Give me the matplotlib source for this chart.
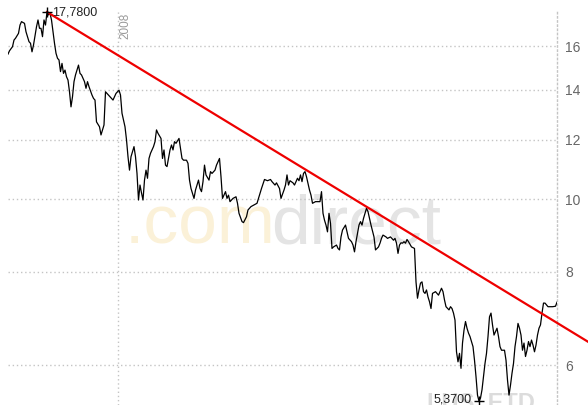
import matplotlib
matplotlib.use("Agg")
import matplotlib.pyplot as plt
import numpy as np
import pandas as pd
from matplotlib.ticker import NullLocator

# data (calendar-day offsets from the first point, closing values)
start = pd.Timestamp("2007-10-20")
day_offsets = [
    0, 1, 3, 4, 5, 7, 8, 9, 11, 12, 14, 15, 16, 17, 19, 20, 21, 22, 23, 24,
    25, 26, 27, 28, 29, 30, 31, 32, 33, 34, 35, 36, 37, 38, 39, 40, 41, 42, 43, 44,
    45, 47, 48, 49, 51, 52, 53, 54, 56, 57, 58, 59, 61, 62, 64, 65, 67, 68, 70, 71,
    72, 74, 75, 76, 78, 79, 80, 81, 82, 84, 85, 86, 87, 88, 89, 90, 91, 92, 93, 94,
    95, 96, 97, 98, 99, 100, 102, 103, 104, 105, 106, 108, 109, 110, 111, 112, 114, 115, 116, 117,
    119, 120, 121, 122, 124, 125, 127, 128, 129, 130, 131, 132, 134, 135, 136, 138, 139, 141, 142, 143,
    145, 146, 147, 148, 150, 152, 153, 154, 156, 157, 159, 160, 162, 164, 166, 167, 169, 171, 173, 175,
    176, 178, 179, 181, 182, 184, 185, 186, 187, 188, 190, 191, 193, 194, 195, 196, 197, 198, 199, 200,
    201, 202, 203, 205, 206, 208, 209, 210, 211, 212, 213, 214, 215, 216, 217, 219, 220, 221, 222, 223,
    225, 226, 227, 229, 230, 231, 232, 233, 234, 235, 236, 237, 239, 240, 241, 242, 244, 245, 247, 248,
    249, 250, 252, 253, 255, 257, 258, 259, 260, 261, 262, 263, 264, 265, 266, 267, 269, 271, 272, 273,
    274, 275, 276, 277, 278, 279, 280, 281, 282, 283, 285, 286, 287, 289, 290, 291, 292, 294, 295, 296,
    297, 298, 299, 300, 301, 302, 303, 304, 305, 306, 307, 308, 309, 310, 311, 312, 313, 314, 315, 316,
    317, 318, 319, 320, 321, 322, 323, 324, 325, 326, 327, 328, 329, 331, 332, 333, 334, 335, 336, 337,
    338, 339, 340, 341, 342, 343, 344, 345, 346, 347, 348, 349, 350, 351, 352, 353, 354, 355, 356, 357,
    358, 359, 360, 363, 365, 366,
]
prices = [
    15.62, 15.78, 15.98, 16.31, 16.40, 16.65, 17.08, 17.26, 17.17, 16.73, 16.23, 16.15, 15.73, 16.06, 16.99, 17.35, 16.91, 16.91, 16.48, 17.35,
    17.08, 17.78, 17.62, 17.71, 17.35, 16.73, 16.15, 15.66, 15.42, 15.34, 14.80, 15.18, 14.72, 14.87, 14.57, 14.42, 13.91, 13.28, 13.70, 14.35,
    14.65, 15.10, 14.72, 14.65, 14.35, 14.06, 14.35, 14.13, 13.77, 13.63, 13.56, 12.68, 12.49, 12.18, 12.56, 13.91, 13.77, 13.70, 13.56, 13.70,
    13.84, 13.98, 13.77, 13.02, 12.49, 12.00, 11.39, 10.93, 11.39, 11.75, 11.39, 10.82, 9.97, 10.44, 10.19, 9.97, 10.60, 10.93, 10.66, 11.33,
    11.51, 11.63, 11.75, 11.93, 12.37, 12.24, 12.05, 11.33, 11.63, 11.10, 11.05, 11.63, 11.81, 11.63, 11.93, 11.87, 12.05, 11.69, 11.33, 11.27,
    11.27, 11.16, 10.60, 10.33, 10.02, 10.28, 10.60, 10.33, 10.23, 10.55, 11.10, 10.77, 10.60, 10.88, 10.82, 10.93, 11.10, 11.33, 10.71, 10.02,
    10.23, 10.02, 10.12, 9.92, 10.02, 10.07, 9.87, 9.57, 9.33, 9.30, 9.47, 9.67, 9.77, 9.82, 9.87, 10.02, 10.33, 10.62, 10.58, 10.62,
    10.55, 10.44, 10.51, 10.33, 10.02, 10.28, 10.44, 10.77, 10.44, 10.58, 10.51, 10.44, 10.66, 10.58, 10.77, 10.55, 10.82, 10.88, 10.71, 10.49,
    10.28, 10.12, 9.87, 9.92, 9.92, 9.92, 10.23, 9.57, 9.37, 9.23, 9.04, 9.57, 9.28, 8.59, 8.63, 8.68, 8.59, 8.55, 8.90, 9.09,
    9.23, 9.04, 8.86, 8.77, 8.68, 8.50, 8.77, 9.00, 9.23, 9.33, 9.23, 9.42, 9.72, 9.62, 9.42, 9.23, 8.90, 8.55, 8.63, 8.73,
    8.86, 8.95, 8.90, 8.86, 8.90, 8.81, 8.86, 8.73, 8.46, 8.68, 8.74, 8.73, 8.77, 8.73, 8.83, 8.77, 8.63, 8.59, 7.75, 7.37,
    7.56, 7.72, 7.75, 7.52, 7.48, 7.56, 7.40, 7.29, 7.14, 7.48, 7.52, 7.48, 7.44, 7.60, 7.52, 7.33, 7.18, 7.11, 7.18, 7.14,
    7.04, 6.89, 6.25, 6.06, 6.22, 5.94, 6.42, 6.68, 6.86, 6.72, 6.62, 6.55, 6.45, 6.35, 6.09, 5.79, 5.47, 5.37, 5.42, 5.56,
    5.79, 6.03, 6.22, 6.55, 6.96, 7.04, 6.79, 6.58, 6.65, 6.72, 6.55, 6.35, 6.28, 6.28, 6.09, 5.73, 5.47, 5.64, 5.85, 6.03,
    6.35, 6.55, 6.82, 6.72, 6.58, 6.28, 6.42, 6.16, 6.28, 6.45, 6.35, 6.48, 6.38, 6.25, 6.38, 6.58, 6.72, 6.79, 7.04, 7.26,
    7.26, 7.22, 7.18, 7.18, 7.19, 7.28,
]
# resistance line drawn from the high, running past the right edge
trend_offsets = [26, 387]
trend_values = [17.78, 6.44]
y_ticks = [6, 8, 10, 12, 14, 16]
year_start = pd.Timestamp("2008-01-01")
span_days = 366

dates = start + pd.to_timedelta(day_offsets, unit="D")
trend_dates = start + pd.to_timedelta(trend_offsets, unit="D")
prices = np.array(prices)

fig = plt.figure(figsize=(5.88, 4.05), dpi=100)
ax = fig.add_axes([8 / 588, 0, 549 / 588, 395 / 405])
ax.set_yscale("log")
ax.set_ylim(5.306, 17.89)
ax.set_xlim(start, start + pd.Timedelta(days=span_days))

# faint watermark, kept under the lines
wm_font = "Liberation Sans"
ax.text(125 / 588, 1 - 243 / 405, ".com", fontsize=50, family=wm_font, transform=fig.transFigure,
        color="#fbf1d8", va="baseline", ha="left", zorder=0.5, clip_on=False)
ax.text(271 / 588, 1 - 243 / 405, "direct", fontsize=50, family=wm_font, transform=fig.transFigure,
        color="#e4e4e4", va="baseline", ha="left", zorder=0.5, clip_on=False)
ax.text(427 / 588, 1 - 410 / 405, "LUS  ETD", fontsize=17, family=wm_font, transform=fig.transFigure,
        fontweight="bold", color="#dcdcdc", va="baseline", ha="left", zorder=0.5, clip_on=False)

# grid and axes
grid_style = dict(color="#c4c4c4", linestyle=(0, (1, 2)), linewidth=1)
ax.set_yticks(y_ticks, labels=[str(t) for t in y_ticks])
ax.yaxis.set_minor_locator(NullLocator())
ax.yaxis.tick_right()
ax.set_xticks([year_start])
ax.tick_params(axis="x", length=0, labelbottom=False)
ax.tick_params(axis="y", length=0, pad=6, labelsize=10, labelcolor="#666666")
for t in ax.get_yticklabels():
    t.set_family("Liberation Sans")
ax.grid(True, **grid_style)
for side in ["top", "left", "bottom"]:
    ax.spines[side].set_visible(False)
ax.spines["right"].set_color("#c4c4c4")
ax.spines["right"].set_linestyle((0, (1, 2)))
ax.spines["right"].set_linewidth(1)
ax.patch.set_alpha(0)

ax.annotate(year_start.strftime("%Y"), xy=(year_start, 1), xycoords=("data", "axes fraction"),
            xytext=(1.5, -2), textcoords="offset points", rotation=90, ha="left", va="top",
            fontsize=8.5, color="#999999", family="Liberation Sans")

# price line and trend line
ax.plot(dates, prices, color="black", linewidth=0.9, zorder=3)
ax.plot(trend_dates, trend_values, color="#ee0000", linewidth=1.6, clip_on=False, zorder=4)

# high / low markers
hi = int(np.argmax(prices))
lo = int(np.argmin(prices))
ax.plot(dates[hi], prices[hi], marker="+", markersize=7, color="black", mew=1, zorder=5, clip_on=False)
ax.plot(dates[lo], prices[lo], marker="+", markersize=7, color="black", mew=1, zorder=5, clip_on=False)
ax.annotate(f"{prices[hi]:.4f}".replace(".", ","), xy=(dates[hi], prices[hi]), xytext=(4, 0),
            textcoords="offset points", ha="left", va="center", fontsize=9, zorder=6,
            color="#222222", family="Liberation Sans", annotation_clip=False)
ax.annotate(f"{prices[lo]:.4f}".replace(".", ","), xy=(dates[lo], prices[lo]), xytext=(-5.5, 1),
            textcoords="offset points", ha="right", va="center", fontsize=9, zorder=6,
            color="#222222", family="Liberation Sans", annotation_clip=False)

fig.savefig("out.png", dpi=100)
